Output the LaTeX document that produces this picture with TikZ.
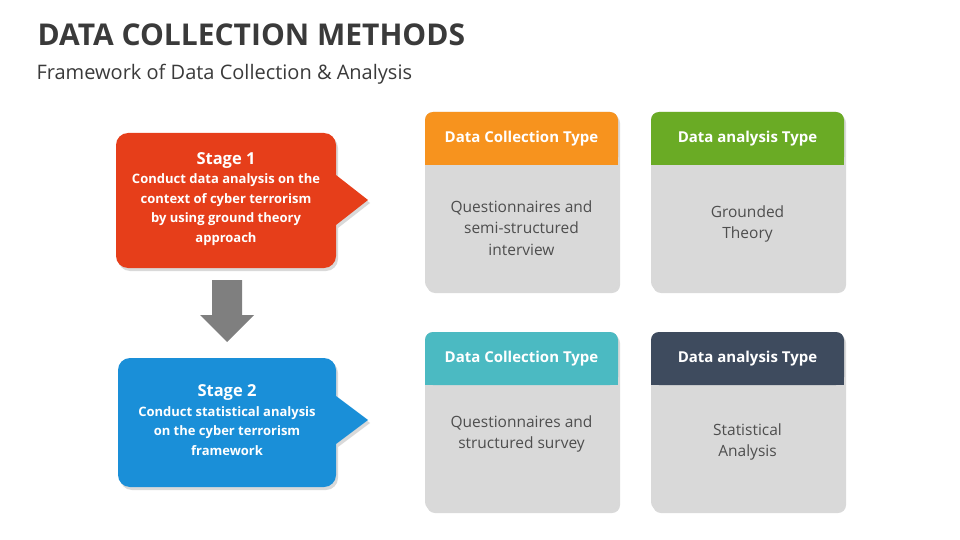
\documentclass[tikz,border=0pt]{standalone}
\usepackage{fontspec}
\setmainfont{Open Sans}
\usetikzlibrary{shadows}
\definecolor{ttl}{HTML}{3A3A3A}
\definecolor{redc}{HTML}{E63E1A}
\definecolor{bluec}{HTML}{1A8FD8}
\definecolor{orc}{HTML}{F7931E}
\definecolor{grc}{HTML}{6AAB25}
\definecolor{tlc}{HTML}{4BBAC2}
\definecolor{slc}{HTML}{3E4B5E}
\definecolor{cardc}{HTML}{D9D9D9}
\definecolor{arrc}{HTML}{7F7F7F}
\tikzset{
 shd/.style={drop shadow={shadow xshift=2pt,shadow yshift=-3pt,opacity=0.3}},
 stagetxt/.style={text=white,align=center,font=\fontsize{13}{19.5}\selectfont\bfseries},
 headtxt/.style={text=white,font=\fontsize{15}{18}\selectfont\bfseries},
 bodytxt/.style={text=ttl!90,align=center,font=\fontsize{15.5}{21.5}\selectfont}
}
\begin{document}
\begin{tikzpicture}[x=1pt,y=-1pt]
\useasboundingbox (0,0) rectangle (960,540);
\node[anchor=west,text=ttl,font=\fontsize{30}{34}\selectfont\bfseries] (title) at (34,35) {DATA COLLECTION METHODS};
\node[anchor=west,text=ttl,font=\fontsize{20}{24}\selectfont] (sub) at (33,74) {Framework of Data Collection \& Analysis};
% stage 1
\fill[redc,shd,rounded corners=12pt] (116,133) -- (336,133) [rounded corners=0pt]-- (336,175) -- (368,200) -- (336,225) [rounded corners=12pt]-- (336,268) -- (116,268) -- cycle;
\node[stagetxt] (s1) at (226,199) {{\fontsize{16.5}{22}\selectfont Stage 1}\\Conduct data analysis on the\\context of cyber terrorism\\by using ground theory\\approach};
% stage 2
\fill[bluec,shd,rounded corners=12pt] (118,358) -- (336,358) [rounded corners=0pt]-- (336,396) -- (368,420) -- (336,444) [rounded corners=12pt]-- (336,487) -- (118,487) -- cycle;
\node[stagetxt] (s2) at (227,420) {{\fontsize{16.5}{22}\selectfont Stage 2}\\Conduct statistical analysis\\on the cyber terrorism\\framework};
% arrow
\fill[arrc] (212,280) -- (242,280) -- (242,315) -- (254,315) -- (227,342) -- (200,315) -- (212,315) -- cycle;
% cards
\newcommand\mycard[7]{%
 \fill[cardc,shd,rounded corners=8pt] (#1,#2) rectangle (#1+193,#2+178);
 \fill[#3,rounded corners=8pt] (#1,#2) rectangle (#1+193,#2+53);
 \fill[#3] (#1,#2+20) rectangle (#1+193,#2+53);
 \node[headtxt] (#6h) at (#1+96.5,#2+27) {#4};
 \node[bodytxt] (#6b) at (#1+96.5,#2+#7) {#5};
}
\mycard{425}{112}{orc}{Data Collection Type}{Questionnaires and\\semi-structured\\interview}{c1}{116}
\mycard{651}{112}{grc}{Data analysis Type}{Grounded\\Theory}{c2}{112}
\mycard{425}{332}{tlc}{Data Collection Type}{Questionnaires and\\structured survey}{c3}{102}
\mycard{651}{332}{slc}{Data analysis Type}{Statistical\\Analysis}{c4}{110}
\end{tikzpicture}
\end{document}
